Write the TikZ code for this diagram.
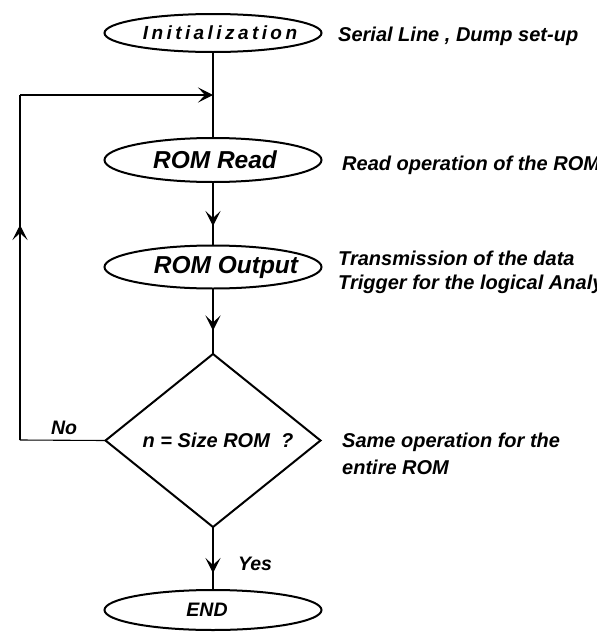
\documentclass[tikz,border=0pt]{standalone}
\usepackage{fontspec}
\setmainfont{Liberation Sans}
\usetikzlibrary{shapes.geometric,arrows.meta,decorations.markings}
\newcommand\shiftedtext[2]{\makebox[0pt]{\hspace*{#1}#2}}
\begin{document}
\begin{tikzpicture}[x=1pt,y=-1pt,
  chev/.tip={Stealth[length=15pt,width=15pt,inset=7pt]},
  term/.style={ellipse, draw, line width=2pt, minimum width=217pt, inner sep=0pt, outer sep=0pt},
  decision/.style={diamond, draw, line width=2pt, minimum width=215pt, minimum height=173pt, inner sep=0pt, outer sep=0pt},
  conn/.style={draw, line width=1.1pt},
  tipmark/.style={postaction={decorate}, decoration={markings, mark=at position #1 with {\arrow{chev}}}},
  bigfont/.style={font=\fontsize{24.5}{28}\selectfont\bfseries\itshape},
  midfont/.style={font=\fontsize{19.5}{23}\selectfont\bfseries\itshape},
  note/.style={anchor=base west, inner sep=0pt, font=\fontsize{20}{24}\selectfont\bfseries\itshape}
]
\useasboundingbox (0,0) rectangle (597,632);
% terminals and decision
\node[term, minimum height=38pt, font=\fontsize{19}{22}\selectfont\bfseries\itshape\addfontfeature{LetterSpace=18}] (init) at (213,33) {\shiftedtext{14pt}{Initialization}};
\node[term, minimum height=44pt, bigfont] (read) at (213,160) {\shiftedtext{4pt}{ROM Read}};
\node[term, minimum height=43pt, bigfont] (out) at (213,267) {\shiftedtext{26pt}{ROM Output}};
\node[decision, font=\fontsize{20}{24}\selectfont\bfseries\itshape] (dec) at (213,440.5) {\shiftedtext{10pt}{n = Size ROM\ \ ?}};
\node[term, minimum height=40pt, midfont] (end) at (213,610) {\shiftedtext{-12pt}{END}};
% loop coordinates
\coordinate (j) at (213,95);
\coordinate (c1) at (20,440);
\coordinate (c2) at (20,95);
% connectors
\draw[conn] (init.south) -- (read.north);
\draw[conn, tipmark=44pt] (read.south) -- (out.north);
\draw[conn, tipmark=42pt] (out.south) -- (dec.north);
\draw[conn, tipmark=46pt] (dec.south) -- (end.north);
\draw[conn] (dec.west) -- (c1);
\draw[conn, tipmark=215pt] (c1) -- (c2);
\draw[conn, -{chev}] (c2) -- (j);
% notes
\node[note] (n1) at (338,41) {Serial Line , Dump set-up};
\node[note] (n2) at (342,170) {Read operation of the ROM};
\node[note] (n3) at (338,265) {Transmission of the data};
\node[note] (n4) at (338,289) {Trigger for the logical Analyzer};
\node[note] (n5) at (342,447) {Same operation for the};
\node[note] (n6) at (342,474) {entire ROM};
\node[note, anchor=base, midfont] (no) at (64,434) {No};
\node[note, anchor=base, midfont] (yes) at (255,570) {Yes};
\end{tikzpicture}
\end{document}
